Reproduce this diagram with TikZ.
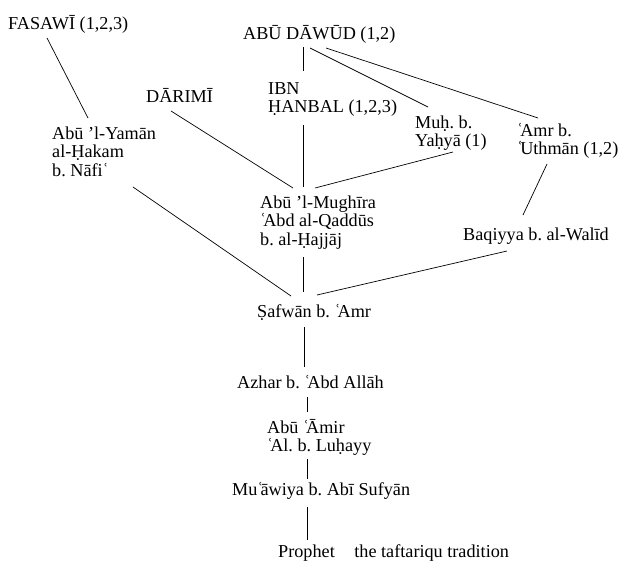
\documentclass[tikz,border=0pt]{standalone}
\usepackage{fontspec}
\setmainfont{Liberation Serif}
\usetikzlibrary{calc}
\frenchspacing
% ʿayn set close to the following letter
\newcommand\ayn{ʿ\kern-3pt}
\begin{document}
\begin{tikzpicture}[x=1pt,y=-1pt,
  person/.style={anchor=base west,inner sep=0pt,align=left,
    font=\fontsize{18.2}{18.5}\selectfont},
  link/.style={line width=0.7pt}]
\useasboundingbox (0,0) rectangle (623,560);

% transmitters (base west = baseline of the last line)
\node[person] (fas) at (8,29) {FASAWĪ (1,2,3)};
\node[person] (dawud) at (243,39) {ABŪ DĀWŪD (1,2)};
\node[person] (darimi) at (146,102) {DĀRIMĪ};
\node[person] (hanbal) at (268,112.5) {IBN\\ḤANBAL (1,2,3)};
\node[person] (muh) at (415,146.5) {Muḥ. b.\\Yaḥyā (1)};
\node[person] (amr) at (517,154.5) {\ayn Amr b.\\\ayn Uthmān (1,2)};
\node[person] (yaman) at (52,176) {Abū ’l-Yamān\\al-Ḥakam\\b. Nāfiʿ};
\node[person] (mugh) at (260,245) {Abū ’l-Mughīra\\\ayn Abd al-Qaddūs\\b. al-Ḥajjāj};
\node[person] (baq) at (463,240) {Baqiyya b. al-Walīd};
\node[person] (safwan) at (257,317) {Ṣafwān b. \ayn Amr};
\node[person] (azhar) at (237,388) {Azhar b. \ayn Abd Allāh};
\node[person] (amir) at (267,451.5) {Abū \ayn Āmir\\\ayn Al. b. Luḥayy};
\node[person] (muaw) at (232,495) {Mu\ayn āwiya b. Abī Sufyān};
\node[person] (prophet) at (278,557) {Prophet\hspace{15pt} the taftariqu tradition};

% chains of transmission
\draw[link] ($(fas.base west)+(39,9)$) -- ($(yaman.base west)+(36,-58)$);
\draw[link] ($(darimi.base west)+(25,9)$) -- ($(mugh.base west)+(33,-57)$);
\draw[link] ($(dawud.base west)+(60,8)$) -- ($(hanbal.base west)+(35,-41.5)$);
\draw[link] ($(hanbal.base west)+(35,12.5)$) -- ($(mugh.base west)+(43,-58)$);
\draw[link] ($(dawud.base west)+(67,9)$) -- ($(muh.base west)+(13,-39.5)$);
\draw[link] ($(dawud.base west)+(83,9)$) -- ($(amr.base west)+(21,-36.5)$);
\draw[link] ($(muh.base west)+(38,5.5)$) -- ($(mugh.base west)+(55,-57)$);
\draw[link] ($(amr.base west)+(30,9.5)$) -- ($(baq.base west)+(60,-25)$);
\draw[link] ($(yaman.base west)+(81,11)$) -- ($(safwan.base west)+(34,-21)$);
\draw[link] ($(mugh.base west)+(43,12)$) -- ($(safwan.base west)+(46,-25)$);
\draw[link] ($(baq.base west)+(44,11)$) -- ($(safwan.base west)+(60,-22)$);
\draw[link] ($(safwan.base west)+(47,10)$) -- ($(azhar.base west)+(67,-21)$);
\draw[link] ($(azhar.base west)+(70,9)$) -- ($(amir.base west)+(40,-39.5)$);
\draw[link] ($(amir.base west)+(40,7.5)$) -- ($(muaw.base west)+(75,-16)$);
\draw[link] ($(muaw.base west)+(75,12)$) -- ($(prophet.base west)+(29,-17)$);
\end{tikzpicture}
\end{document}
